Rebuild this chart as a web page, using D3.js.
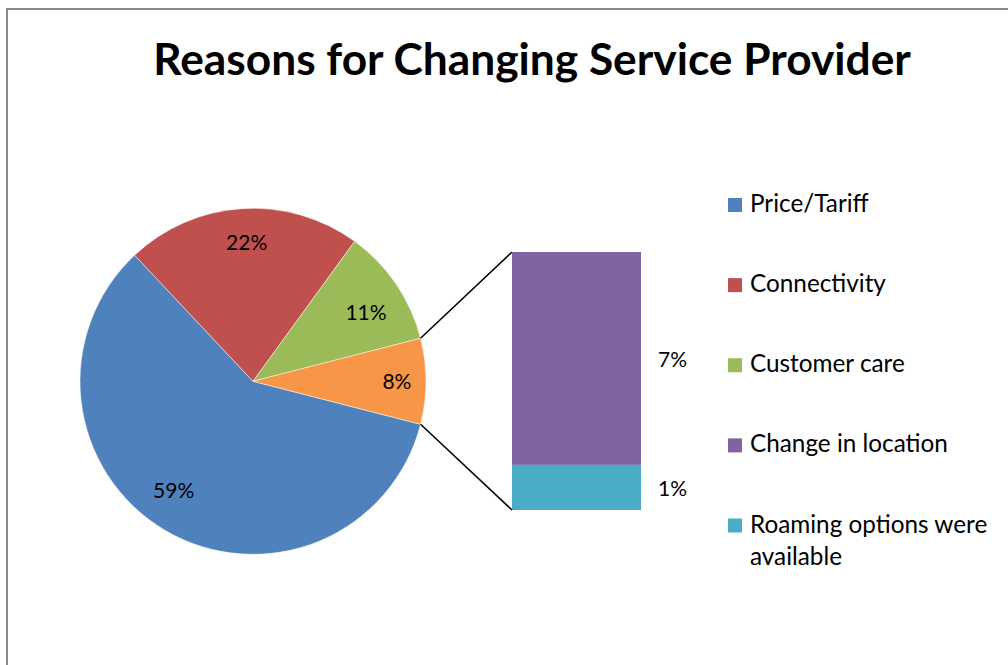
<!DOCTYPE html>
<html>
<head>
<meta charset="utf-8">
<script src="https://cdn.jsdelivr.net/npm/d3@7"></script>
<style>
  html, body { margin: 0; padding: 0; background: #fff; }
  svg { display: block; }
</style>
</head>
<body>
<svg id="chart" width="1008" height="665"></svg>
<script>
// ---- data ----
const title = "Reasons for Changing Service Provider";
const pieCategories = ["Price/Tariff", "Connectivity", "Customer care", "Other"];
const barCategories = ["Change in location", "Roaming options were available"];
const pieValues = [59, 22, 11];          // main pie slices (%)
const barValues = [6.6, 1.4];            // split-out "other" slices (%)
const pieLabels = ["59%", "22%", "11%", "8%"];
const barLabels = ["7%", "1%"];
const legendLabels = ["Price/Tariff", "Connectivity", "Customer care", "Change in location", "Roaming options were available"];
const colors = ["#4F81BD", "#C0504D", "#9BBB59", "#8064A2", "#4BACC6"];
const otherColor = "#F79646";

const svg = d3.select("#chart");
const FONT = "Lato, 'Open Sans', sans-serif";

function fitSize(text, width, weight) {
  const t = svg.append("text").attr("font-family", FONT).attr("font-weight", weight || "normal")
    .attr("font-size", 100).text(text);
  const w = t.node().getComputedTextLength();
  t.remove();
  return 100 * width / w;
}

// border
svg.append("path")
  .attr("d", "M7,700 L7,9 L1100,9")
  .attr("fill", "none").attr("stroke", "#8a8a8a").attr("stroke-width", 2);

// title
const titleSize = fitSize(title, 758, "bold");
svg.append("text")
  .attr("x", 532).attr("y", 75)
  .attr("text-anchor", "middle")
  .attr("font-family", FONT).attr("font-weight", "bold")
  .attr("font-size", titleSize)
  .attr("fill", "#000")
  .text(title);

// ---- pie ----
const cx = 253, cy = 381.3, r = 173;
const otherTotal = d3.sum(barValues);
const total = d3.sum(pieValues) + otherTotal;
const otherAngle = 2 * Math.PI * otherTotal / total;
const startOther = Math.PI / 2 - otherAngle / 2;   // "other" slice centred at 3 o'clock

const ordered = [
  { v: pieValues[0], c: colors[0], l: pieLabels[0] },
  { v: pieValues[1], c: colors[1], l: pieLabels[1] },
  { v: pieValues[2], c: colors[2], l: pieLabels[2] },
  { v: otherTotal, c: otherColor, l: pieLabels[3] }
];
const arcsData = d3.pie().sort(null).value(d => d.v)
  .startAngle(startOther + otherAngle)
  .endAngle(startOther + otherAngle + 2 * Math.PI)(ordered);

const arc = d3.arc().innerRadius(0).outerRadius(r);

const g = svg.append("g").attr("transform", `translate(${cx},${cy})`);
g.selectAll("path.slice").data(arcsData).enter().append("path")
  .attr("class", "slice")
  .attr("d", arc)
  .attr("fill", d => d.data.c)
  .attr("stroke", "#ffffff").attr("stroke-opacity", 0.6).attr("stroke-width", 0.8);

const labelSize = 21;
const labelRadius = [0.78, 0.806, 0.766, 0.832];
const labelShift = [5.4, 1, 2.7, 0].map(a => a * Math.PI / 180);
g.selectAll("text.pl").data(arcsData).enter().append("text")
  .attr("class", "pl")
  .attr("transform", (d, i) => {
    const a = (d.startAngle + d.endAngle) / 2 + labelShift[i];
    const rr = labelRadius[i] * r;
    return `translate(${Math.sin(a) * rr},${-Math.cos(a) * rr})`;
  })
  .attr("text-anchor", "middle").attr("dy", "0.36em")
  .attr("font-family", FONT).attr("font-size", labelSize).attr("fill", "#000")
  .text(d => d.data.l);

// ---- bar of pie ----
const barX = d3.scaleBand().domain(["other"]).range([512, 641]).padding(0);
const barY = d3.scaleLinear().domain([0, otherTotal]).range([510, 252]);
// stacked: bottom is Roaming (index 1), top is Change in location (index 0)
const stackOrdered = [];
let acc = 0;
[1, 0].forEach(i => {
  stackOrdered.push({ y0: acc, y1: acc + barValues[i], c: colors[3 + i], l: barLabels[i] });
  acc += barValues[i];
});
svg.selectAll("rect.bar").data(stackOrdered).enter().append("rect")
  .attr("class", "bar")
  .attr("x", barX("other"))
  .attr("width", barX.bandwidth())
  .attr("y", d => barY(d.y1))
  .attr("height", d => barY(d.y0) - barY(d.y1))
  .attr("fill", d => d.c);

svg.selectAll("text.bl").data(stackOrdered).enter().append("text")
  .attr("class", "bl")
  .attr("x", barX("other") + barX.bandwidth() + 17)
  .attr("y", d => (barY(d.y0) + barY(d.y1)) / 2 + 1)
  .attr("dy", "0.36em")
  .attr("font-family", FONT).attr("font-size", labelSize).attr("fill", "#000")
  .text(d => d.l);

// connector lines
const oArc = arcsData[3];
const p1 = [cx + Math.sin(oArc.startAngle) * r, cy - Math.cos(oArc.startAngle) * r];
const p2 = [cx + Math.sin(oArc.endAngle) * r, cy - Math.cos(oArc.endAngle) * r];
svg.append("line")
  .attr("x1", p1[0]).attr("y1", p1[1])
  .attr("x2", barX("other")).attr("y2", barY(otherTotal))
  .attr("stroke", "#000").attr("stroke-width", 1.5);
svg.append("line")
  .attr("x1", p2[0]).attr("y1", p2[1])
  .attr("x2", barX("other")).attr("y2", barY(0))
  .attr("stroke", "#000").attr("stroke-width", 1.5);

// ---- legend ----
const legendSize = Math.max(fitSize("Change in location", 198), 21);
const legendY = d3.scalePoint().domain(legendLabels).range([205, 525.5]);
const lg = svg.append("g");
legendLabels.forEach((lab, i) => {
  const y = legendY(lab);
  lg.append("rect").attr("x", 728).attr("y", y - 7).attr("width", 14).attr("height", 14)
    .attr("fill", colors[i]);
  const t = lg.append("text").attr("x", 750).attr("y", y + 7)
    .attr("font-family", FONT).attr("font-size", legendSize).attr("fill", "#000");
  if (lab === "Roaming options were available") {
    t.append("tspan").attr("x", 750).text("Roaming options were");
    t.append("tspan").attr("x", 750).attr("dy", 32).text("available");
  } else {
    t.text(lab);
  }
});
</script>
</body>
</html>
